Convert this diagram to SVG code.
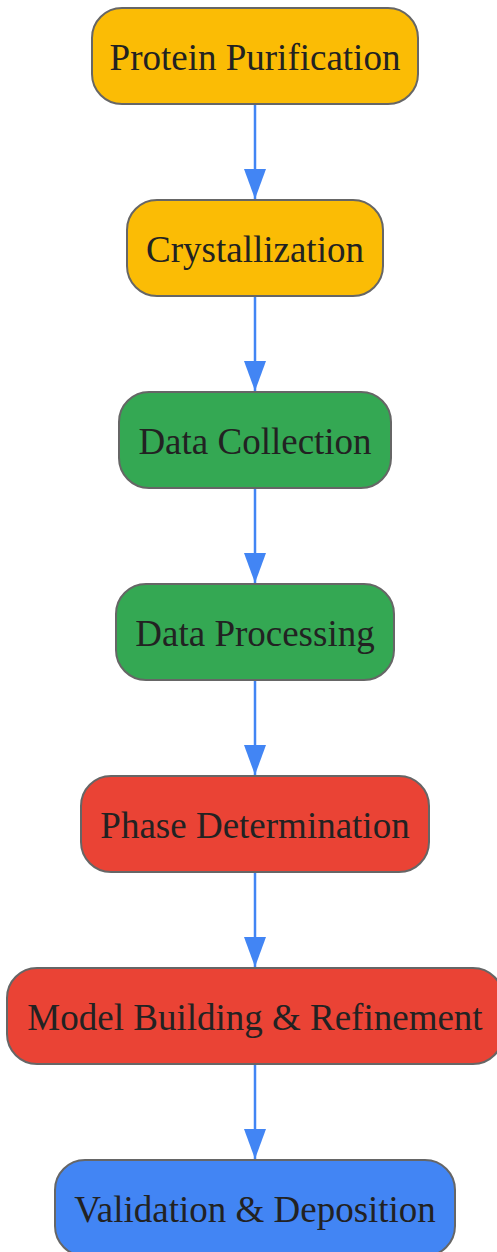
<svg xmlns="http://www.w3.org/2000/svg" width="497" height="1252" viewBox="0 0 497 1252">
  <style>
    .node rect { stroke: #666666; stroke-width: 2; }
    .node text { font-family: "Liberation Serif", "Times New Roman", serif; font-size: 37px; fill: #222222; text-anchor: middle; }
    .yellow rect { fill: #FBBC05; }
    .green rect { fill: #34A853; }
    .red rect { fill: #EA4335; }
    .blue rect { fill: #4285F4; }
    .edge { stroke: #4285F4; stroke-width: 2.5; fill: none; marker-end: url(#arrow); }
  </style>
  <defs>
    <marker id="arrow" markerUnits="userSpaceOnUse" markerWidth="30" markerHeight="22" refX="30" refY="11" orient="auto" viewBox="0 0 30 22">
      <path d="M0,0 L30,11 L0,22 Z" fill="#4285F4"/>
    </marker>
  </defs>
  <rect width="497" height="1252" fill="#ffffff"/>
  <g id="connectors">
    <line class="edge" x1="255" y1="104" x2="255" y2="199"/>
    <line class="edge" x1="255" y1="296" x2="255" y2="391"/>
    <line class="edge" x1="255" y1="488" x2="255" y2="583"/>
    <line class="edge" x1="255" y1="680" x2="255" y2="775"/>
    <line class="edge" x1="255" y1="872" x2="255" y2="967"/>
    <line class="edge" x1="255" y1="1064" x2="255" y2="1159"/>
  </g>
  <g id="protein-purification" class="node yellow">
    <rect x="92" y="8" width="326" height="96" rx="30" ry="30"/>
    <text x="255" y="70">Protein Purification</text>
  </g>
  <g id="crystallization" class="node yellow">
    <rect x="127" y="200" width="256" height="96" rx="30" ry="30"/>
    <text x="255" y="262">Crystallization</text>
  </g>
  <g id="data-collection" class="node green">
    <rect x="119" y="392" width="272" height="96" rx="30" ry="30"/>
    <text x="255" y="454">Data Collection</text>
  </g>
  <g id="data-processing" class="node green">
    <rect x="116" y="584" width="278" height="96" rx="30" ry="30"/>
    <text x="255" y="646">Data Processing</text>
  </g>
  <g id="phase-determination" class="node red">
    <rect x="81" y="776" width="348" height="96" rx="30" ry="30"/>
    <text x="255" y="838">Phase Determination</text>
  </g>
  <g id="model-building" class="node red">
    <rect x="7" y="968" width="496" height="96" rx="30" ry="30"/>
    <text x="255" y="1030">Model Building &amp; Refinement</text>
  </g>
  <g id="validation-deposition" class="node blue">
    <rect x="55" y="1160" width="400" height="96" rx="30" ry="30"/>
    <text x="255" y="1222">Validation &amp; Deposition</text>
  </g>
</svg>
